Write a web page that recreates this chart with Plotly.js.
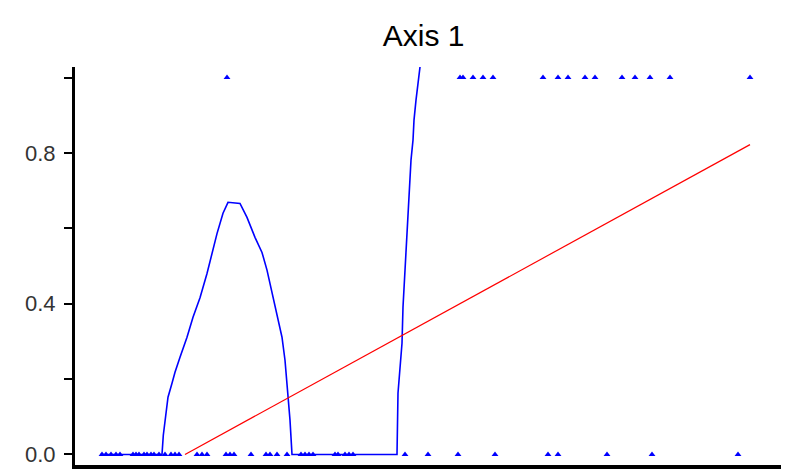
<!DOCTYPE html>
<html>
<head>
<meta charset="utf-8">
<script src="https://cdn.plot.ly/plotly-3.0.1.min.js"></script>
<style>
  html, body { margin: 0; padding: 0; background: #fff; }
  #chart { width: 789px; height: 476px; }
</style>
</head>
<body>
<div id="chart"></div>
<script>
// Observations scored 0 (absent) and 1 (present) along Axis 1
const absentX = [27, 31, 36, 41, 45, 58, 61, 64, 69, 72, 76, 79, 84, 90, 96, 100, 104,
  122, 127, 132, 151, 155, 159, 176, 191, 195, 202, 212, 226, 230, 234, 238,
  260, 263, 270, 274, 278, 330, 353, 383, 420, 473, 483, 532, 577, 663];
const presentX = [152, 385, 388, 398, 408, 418, 468, 483, 493, 510, 520, 547, 560, 575, 595, 675];

// Smoothed response curve
const smoothX = [25, 87, 88.3, 91, 93, 97, 100, 105, 112, 118, 125, 132, 137, 142, 148, 153,
  165, 172, 180, 187, 192, 197, 202, 207, 210, 213, 215, 217, 322, 323, 327, 328, 330,
  332, 334, 336, 338, 339, 341, 343, 345, 346];
const smoothY = [0, 0, 0.051, 0.118, 0.152, 0.189, 0.218, 0.258, 0.311, 0.364, 0.416, 0.480,
  0.536, 0.586, 0.640, 0.669, 0.666, 0.629, 0.576, 0.536, 0.489, 0.428, 0.375, 0.311, 0.250,
  0.163, 0.091, 0, 0, 0.163, 0.295, 0.391, 0.497, 0.603, 0.701, 0.781, 0.834, 0.887, 0.940,
  0.985, 1.025, 1.05];

// Linear fit
const fitX = [110, 675];
const fitY = [0, 0.822];

// Y axis ticks
const yTickVals = [0, 0.2, 0.4, 0.6, 0.8, 1.0];
const yTickText = ['0.0', '', '0.4', '', '0.8', ''];

const blue = '#0000ff';
const red = '#ff0000';

const traces = [
  {
    x: smoothX, y: smoothY, type: 'scatter', mode: 'lines',
    line: { color: blue, width: 1.6 }, hoverinfo: 'skip'
  },
  {
    x: fitX, y: fitY, type: 'scatter', mode: 'lines',
    line: { color: red, width: 1.2 }, hoverinfo: 'skip'
  },
  {
    x: absentX, y: absentX.map(() => 0), type: 'scatter', mode: 'markers',
    marker: { symbol: 'triangle-up', size: 6, color: blue }, cliponaxis: false
  },
  {
    x: presentX, y: presentX.map(() => 1), type: 'scatter', mode: 'markers',
    marker: { symbol: 'triangle-up', size: 6, color: blue }, cliponaxis: false
  }
];

const layout = {
  width: 789, height: 476,
  margin: { l: 75, r: 8, t: 67, b: 11 },
  paper_bgcolor: '#ffffff', plot_bgcolor: '#ffffff',
  showlegend: false,
  title: {
    text: 'Axis 1',
    font: { family: 'Liberation Sans, Arial, sans-serif', size: 30, color: '#000' },
    x: 0.537, xref: 'container', xanchor: 'center',
    y: 1 - 35 / 476, yref: 'container', yanchor: 'middle'
  },
  xaxis: {
    range: [0, 706],
    showgrid: false, zeroline: false,
    showticklabels: false, ticks: '',
    showline: true, linecolor: '#000', linewidth: 4
  },
  yaxis: {
    range: [-0.028, 1.028],
    showgrid: false, zeroline: false,
    tickvals: yTickVals, ticktext: yTickText,
    ticks: 'outside', ticklen: 8, tickwidth: 2, tickcolor: '#000',
    ticklabelstandoff: 4,
    tickfont: { family: 'Liberation Sans, Arial, sans-serif', size: 22, color: '#333' },
    showline: true, linecolor: '#000', linewidth: 3
  }
};

Plotly.newPlot('chart', traces, layout, { staticPlot: true, displayModeBar: false });
</script>
</body>
</html>
